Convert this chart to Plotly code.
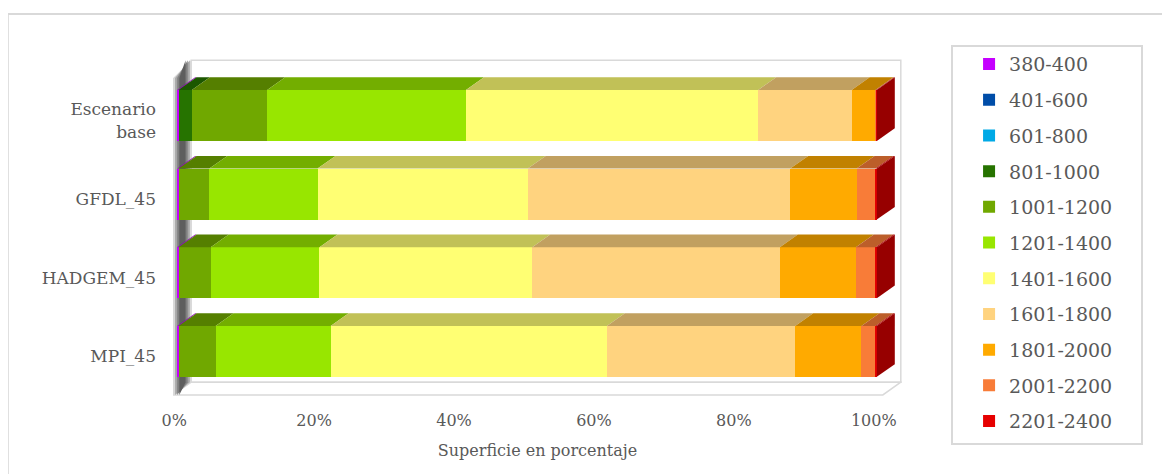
import plotly.graph_objects as go

# ---------------- data ----------------
scenarios = ["Escenario<br>base", "GFDL_45", "HADGEM_45", "MPI_45"]
ranges = ["380-400", "401-600", "601-800", "801-1000", "1001-1200", "1201-1400",
          "1401-1600", "1601-1800", "1801-2000", "2001-2200", "2201-2400"]
# percentage of area per altitude range (same order as `ranges`)
base_vals   = [0.2, 0.0, 0.0, 1.9, 10.8, 28.5, 41.9, 13.4, 3.4, 0.1, 0.1]
gfdl_vals   = [0.2, 0.0, 0.0, 0.0, 4.4, 15.5, 30.1, 37.6, 9.5, 2.7, 0.2]
hadgem_vals = [0.2, 0.0, 0.0, 0.0, 4.6, 15.6, 30.5, 35.5, 10.9, 2.8, 0.2]
mpi_vals    = [0.2, 0.0, 0.0, 0.0, 5.3, 16.5, 39.6, 27.0, 9.5, 2.0, 0.2]
x_ticks = [0, 20, 40, 60, 80, 100]
x_tick_labels = ["0%", "20%", "40%", "60%", "80%", "100%"]

colors = ["#C500FF", "#004DA8", "#00A9E6", "#267300", "#70A800", "#98E600",
          "#FFFF73", "#FFD37F", "#FFAA00", "#F87C38", "#E60000"]

rows = [base_vals, gfdl_vals, hadgem_vals, mpi_vals]
ypos = [3, 2, 1, 0]          # base at the top
BW = 0.648                   # bar thickness (category units)
DX = 2.571                   # 3D depth offset along x (percent units)
DY = 0.161                   # 3D depth offset along y (category units)
FONT = "DejaVu Serif"
GREY = "#595959"


def darker(hexcol, f):
    h = hexcol.lstrip("#")
    r, g, b = (int(h[i:i + 2], 16) for i in (0, 2, 4))
    return "#%02X%02X%02X" % (int(r * f), int(g * f), int(b * f))


# normalised percentages
norm = []
for r in rows:
    s = sum(r)
    norm.append([v / s * 100 for v in r])

fig = go.Figure()
for j, name in enumerate(ranges):
    fig.add_trace(go.Bar(
        y=ypos, x=[norm[i][j] for i in range(len(rows))],
        orientation="h", name=name, legendgroup=name,
        marker=dict(color=colors[j], line=dict(width=0)),
        width=BW, hoverinfo="name+x",
    ))

shapes = []
# --- walls and floor (decoration) ---
y_floor = -0.553
y_top = 3.70
shapes.append(dict(type="path", xref="x", yref="y", layer="below",
                   path=f"M{2.0},{y_floor+DY} L{2.0},{y_top} L{103.43},{y_top} L{103.43},{y_floor+DY} Z",
                   fillcolor="white", line=dict(color="#D9D9D9", width=1.5)))
shapes.append(dict(type="path", xref="x", yref="y", layer="below",
                   path=f"M{-0.571},{y_floor} L{100.86},{y_floor} L{103.43},{y_floor+DY} L{2.0},{y_floor+DY} Z",
                   fillcolor="white", line=dict(color="#D9D9D9", width=1.5)))
# left wall with a stepped grey gradient
wall_steps = [(-0.571, 2.0, "#D8D8D8"), (-0.3, 1.8, "#A8A8A8"),
              (0.0, 1.5, "#808080"), (0.3, 1.2, "#5E5E5E")]
for x0, x1, c in wall_steps:
    shapes.append(dict(type="path", xref="x", yref="y", layer="below",
                       path=f"M{x0},{y_floor} L{x0},{3.475} L{x1},{y_top} L{x1},{y_floor+DY} Z",
                       fillcolor=c, line=dict(width=0)))
shapes.append(dict(type="line", xref="x", yref="y", layer="below",
                   x0=-0.571, x1=-0.571, y0=y_floor, y1=3.475,
                   line=dict(color="#D9D9D9", width=1.5)))

# --- 3D top faces and end faces of the bars, computed from the data ---
for i, r in enumerate(norm):
    yc = ypos[i]
    yt = yc + BW / 2
    yb = yc - BW / 2
    cum = 0.0
    last_col = colors[-1]
    for j, v in enumerate(r):
        if v <= 0:
            continue
        x0, x1 = cum, cum + v
        cum = x1
        last_col = colors[j]
        shapes.append(dict(type="path", xref="x", yref="y", layer="above",
                           path=f"M{x0},{yt} L{x1},{yt} L{x1+DX},{yt+DY} L{x0+DX},{yt+DY} Z",
                           fillcolor=darker(colors[j], 0.76), line=dict(width=0)))
    shapes.append(dict(type="path", xref="x", yref="y", layer="above",
                       path=f"M{cum},{yb} L{cum},{yt} L{cum+DX},{yt+DY} L{cum+DX},{yb+DY} Z",
                       fillcolor=darker(last_col, 0.66), line=dict(width=0)))

# outer chart border
shapes.append(dict(type="rect", xref="paper", yref="paper",
                   x0=-0.2266, x1=1.3626, y0=-0.26, y1=1.1298,
                   line=dict(color="#D9D9D9", width=2), fillcolor="rgba(0,0,0,0)", layer="below"))
# legend frame
shapes.append(dict(type="rect", xref="paper", yref="paper",
                   x0=1.0686, x1=1.3292, y0=-0.1386, y1=1.0354,
                   line=dict(color="#D9D9D9", width=2), fillcolor="rgba(0,0,0,0)", layer="below"))

fig.update_layout(
    width=1170, height=474,
    margin=dict(l=165, r=276, t=50, b=85, autoexpand=False),
    paper_bgcolor="white", plot_bgcolor="white",
    barmode="stack",
    font=dict(family=FONT, color=GREY, size=16),
    shapes=shapes,
    showlegend=True,
    legend=dict(
        x=1.092, xanchor="left", y=1.0377, yanchor="top",
        traceorder="grouped", tracegroupgap=8,
        font=dict(family=FONT, size=19, color=GREY),
        borderwidth=0, bgcolor="rgba(0,0,0,0)",
        itemwidth=30, maxheight=1.0,
    ),
    xaxis=dict(
        range=[-0.6, 103.6], showgrid=False, zeroline=False, showline=False,
        tickvals=[t - 0.43 for t in x_ticks], ticktext=x_tick_labels,
        ticks="", ticklabelstandoff=12, automargin=False,
        tickfont=dict(family=FONT, size=16, color=GREY),
        title=dict(text="Superficie en porcentaje", standoff=15,
                   font=dict(family=FONT, size=16, color=GREY)),
        fixedrange=True,
    ),
    yaxis=dict(
        range=[-0.58, 3.73], showgrid=False, zeroline=False, showline=False,
        tickvals=[p - 0.065 for p in ypos], ticktext=scenarios,
        ticks="", ticklabelstandoff=16, automargin=False,
        tickfont=dict(family=FONT, size=17, color=GREY),
        fixedrange=True,
    ),
)

fig.write_html("out.html")
